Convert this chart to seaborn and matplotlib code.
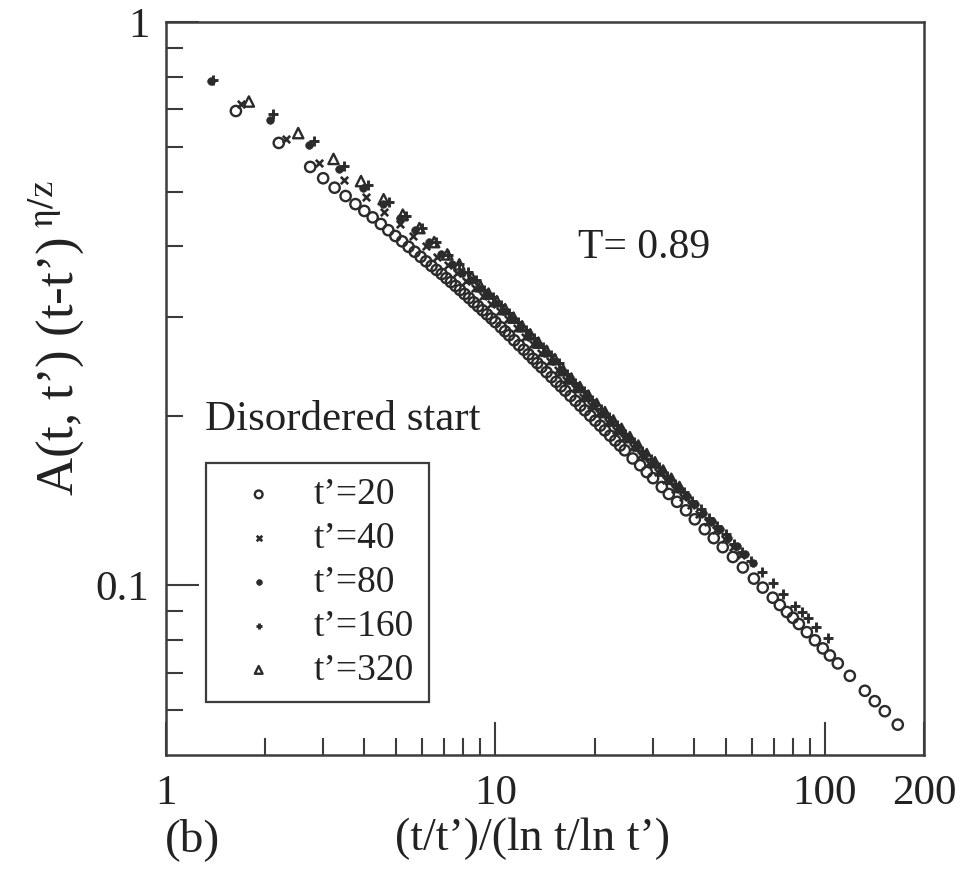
import matplotlib
matplotlib.use("Agg")
import matplotlib.pyplot as plt
import seaborn as sns
import pandas as pd
from matplotlib.ticker import FixedLocator, NullFormatter, FixedFormatter

sns.set_theme(style="white")
plt.rcParams['font.family'] = ['Liberation Serif', 'DejaVu Serif']
plt.rcParams['mathtext.fontset'] = 'stix'

labels = ["t\u2019=20", "t\u2019=40", "t\u2019=80", "t\u2019=160", "t\u2019=320"]

x_t20 = [1.63, 2.20, 2.74, 3.00, 3.25, 3.51, 3.76, 4.00, 4.24, 4.49, 4.73, 4.97, 5.21, 5.45,
         5.69, 5.93, 6.16, 6.40, 6.63, 6.87, 7.10, 7.33, 7.57, 7.81, 8.06, 8.32, 8.59, 8.86,
         9.14, 9.43, 9.73, 10.0, 10.4, 10.7, 11.0, 11.4, 11.8, 12.2, 12.6, 13.0, 13.4, 13.8,
         14.3, 14.8, 15.3, 15.8, 16.3, 16.9, 17.5, 18.1, 18.7, 19.4, 20.1, 20.8, 21.5, 22.3,
         23.1, 23.9, 24.7, 26.1, 27.5, 28.8, 30.1, 32.0, 33.6, 35.6, 37.9, 40.3, 43.2, 46.0,
         49.0, 52.6, 56.4, 60.9, 64.8, 69.5, 73.0, 76.7, 80.0, 83.4, 88.2, 93.3, 98.6, 103.6,
         109.5, 119.1, 132.3, 141.8, 152.1, 166.5]
y_t20 = [0.695, 0.610, 0.553, 0.528, 0.508, 0.491, 0.475, 0.462, 0.450, 0.438, 0.427, 0.417,
         0.408, 0.399, 0.391, 0.383, 0.376, 0.369, 0.363, 0.357, 0.351, 0.3455, 0.340, 0.3345,
         0.329, 0.3236, 0.318, 0.3129, 0.3078, 0.3027, 0.2977, 0.2933, 0.2871, 0.2825, 0.278,
         0.2723, 0.2669, 0.262, 0.2571, 0.2525, 0.2481, 0.2439, 0.239, 0.2343, 0.2298, 0.2256,
         0.2216, 0.2169, 0.2126, 0.2084, 0.2045, 0.2001, 0.196, 0.1921, 0.1884, 0.1844, 0.1807,
         0.1771, 0.1737, 0.168, 0.1634, 0.1589, 0.155, 0.1495, 0.1453, 0.1407, 0.1359, 0.1310,
         0.1258, 0.1213, 0.1169, 0.1123, 0.1076, 0.1028, 0.0991, 0.0951, 0.0923, 0.0897, 0.0876,
         0.0854, 0.0826, 0.0799, 0.0773, 0.0751, 0.0727, 0.0691, 0.065, 0.0623, 0.0598, 0.0566]

x_t40 = [1.684, 2.312, 2.908, 3.48, 4.038, 4.583, 5.116, 5.641, 6.158, 6.667, 7.170, 7.668,
         8.161, 8.65, 9.17, 9.72, 10.3, 10.9, 11.6, 12.3, 13.0, 13.8, 14.6, 15.5, 16.4, 17.4,
         18.4, 19.5, 20.7, 21.9, 23.2, 24.6, 26.1, 27.7, 29.3, 31.1, 33.0, 35.0, 37.0, 39.3,
         41.6, 44.1, 46.8, 49.6, 52.6, 55.7]
y_t40 = [0.715, 0.621, 0.561, 0.524, 0.4887, 0.4603, 0.4371, 0.4174, 0.4005, 0.3833, 0.3704,
         0.3587, 0.3471, 0.3366, 0.3263, 0.3164, 0.3068, 0.2968, 0.2861, 0.2764, 0.2677, 0.2584,
         0.2500, 0.2414, 0.2314, 0.2236, 0.2163, 0.2091, 0.2019, 0.1953, 0.1888, 0.1825, 0.1763,
         0.1702, 0.1647, 0.1590, 0.1536, 0.1484, 0.1436, 0.1387, 0.1341, 0.1296, 0.1252, 0.1210,
         0.1169, 0.1130]

x_t80 = [1.373, 2.068, 2.72, 3.35, 3.96, 4.555, 5.138, 5.711, 6.276, 6.834, 7.385, 7.930, 8.41,
         8.91, 9.44, 10.0, 10.6, 11.2, 11.9, 12.6, 13.4, 14.2, 15.0, 15.9, 16.9, 17.9, 19.0,
         20.1, 21.3, 22.6, 24.0, 25.4, 26.9, 28.5, 30.2, 32.0, 33.9, 36.0, 38.1, 40.4, 42.8,
         45.4, 48.1, 51.0, 54.0, 57.3, 60.7]
y_t80 = [0.785, 0.6706, 0.6043, 0.5483, 0.5070, 0.4746, 0.4484, 0.4267, 0.4064, 0.3877, 0.3721,
         0.3590, 0.3480, 0.3375, 0.3273, 0.3175, 0.3073, 0.2976, 0.2872, 0.2777, 0.2678, 0.2589,
         0.2506, 0.2406, 0.2321, 0.2245, 0.2167, 0.2097, 0.2027, 0.1958, 0.1890, 0.1829, 0.1768,
         0.1709, 0.1652, 0.1597, 0.1543, 0.1490, 0.1441, 0.1393, 0.1347, 0.1301, 0.1258, 0.1215,
         0.1175, 0.1135, 0.1097]

x_t160 = [1.389, 2.118, 2.807, 3.471, 4.117, 4.748, 5.369, 5.979, 6.581, 7.176, 7.764, 8.23,
          8.72, 9.25, 9.80, 10.4, 11.0, 11.7, 12.4, 13.1, 13.9, 14.7, 15.6, 16.5, 17.5, 18.6,
          19.7, 20.9, 22.1, 23.4, 24.8, 26.3, 27.9, 29.6, 31.3, 33.2, 35.2, 37.3, 39.6, 42.0,
          44.5, 47.1, 50.0, 53.0, 56.1, 59.5, 64.4, 69.5, 74.7, 81.2, 85.0, 88.8, 94.2, 102.0]
y_t160 = [0.790, 0.6871, 0.6139, 0.5558, 0.5129, 0.4796, 0.4526, 0.4303, 0.4067, 0.3860, 0.3713,
          0.3601, 0.3477, 0.3348, 0.3246, 0.3143, 0.3041, 0.2933, 0.2835, 0.2745, 0.2652, 0.2566,
          0.2478, 0.2370, 0.2291, 0.2210, 0.2136, 0.2055, 0.1989, 0.1923, 0.1858, 0.1795, 0.1734,
          0.1675, 0.1621, 0.1566, 0.1514, 0.1463, 0.1413, 0.1365, 0.1319, 0.1276, 0.1232, 0.1183,
          0.1144, 0.1105, 0.1055, 0.1009, 0.0967, 0.0921, 0.0897, 0.0874, 0.0844, 0.0806]

x_t320 = [1.785, 2.52, 3.225, 3.909, 4.578, 5.234, 5.880, 6.517, 7.147, 7.770, 8.48, 9.00, 9.53,
          10.1, 10.7, 11.35, 12.05, 12.75, 13.5, 14.3, 15.15, 16.05, 17.0, 18.05, 19.15, 20.3,
          21.5, 22.8, 24.15, 25.6, 27.15, 28.8, 30.5, 32.3, 34.2, 36.2]
y_t320 = [0.7225, 0.6350, 0.5714, 0.5219, 0.4846, 0.4550, 0.4307, 0.4067, 0.3868, 0.3713, 0.3521,
          0.3396, 0.3295, 0.3195, 0.3092, 0.2987, 0.2883, 0.2790, 0.2697, 0.2608, 0.2521, 0.2409,
          0.2329, 0.2249, 0.2172, 0.2099, 0.2030, 0.1962, 0.1896, 0.1833, 0.1771, 0.1710, 0.1654,
          0.1599, 0.1546, 0.1495]

x_ticks = [1, 10, 100, 200]
x_ticklabels = ["1", "10", "100", "200"]
y_ticks = [0.1, 1]
y_ticklabels = ["0.1", "1"]

ink = "#2b2b2b"
frame = "#3c3c3c"
txt = "#222222"

data = pd.concat([
    pd.DataFrame({"x": xs, "y": ys, "series": lab})
    for lab, xs, ys in zip(labels, [x_t20, x_t40, x_t80, x_t160, x_t320],
                           [y_t20, y_t40, y_t80, y_t160, y_t320])
], ignore_index=True)

styles = {
    labels[0]: dict(marker="o", s=55, facecolors="none", edgecolor=ink, linewidth=1.7),
    labels[1]: dict(marker="x", s=28, color=ink, linewidth=1.9),
    labels[2]: dict(marker="o", s=30, color=ink, edgecolor=ink, linewidth=0.5),
    labels[3]: dict(marker="+", s=45, color=ink, linewidth=2.1),
    labels[4]: dict(marker="^", s=55, facecolors="none", edgecolor=ink, linewidth=1.7),
}

fig = plt.figure(figsize=(9.65, 8.69), dpi=100)
ax = fig.add_axes([0.172, 0.1312, 0.7855, 0.8435])

for lab in labels:
    sub = data[data["series"] == lab]
    sns.scatterplot(data=sub, x="x", y="y", ax=ax, label=lab, legend=False, zorder=3,
                    **styles[lab])

ax.set_xscale("log")
ax.set_yscale("log")
ax.set_xlim(1, 200)
ax.set_ylim(0.05, 1)

ax.xaxis.set_major_locator(FixedLocator(x_ticks))
ax.xaxis.set_major_formatter(FixedFormatter(x_ticklabels))
ax.xaxis.set_minor_locator(FixedLocator([2, 3, 4, 5, 6, 7, 8, 9, 20, 30, 40, 50, 60, 70, 80, 90]))
ax.xaxis.set_minor_formatter(NullFormatter())
ax.yaxis.set_major_locator(FixedLocator(y_ticks))
ax.yaxis.set_major_formatter(FixedFormatter(y_ticklabels))
ax.yaxis.set_minor_locator(FixedLocator([0.06, 0.07, 0.08, 0.09, 0.2, 0.3, 0.4, 0.5, 0.6, 0.7, 0.8, 0.9]))
ax.yaxis.set_minor_formatter(NullFormatter())

ax.tick_params(which="both", direction="in", bottom=True, left=True, top=False, right=False,
               color=frame, width=1.5, labelcolor=txt, labelsize=31)
ax.tick_params(which="major", length=24, pad=12)
ax.tick_params(which="minor", length=12)
ax.tick_params(axis="x", which="major", pad=14)

for sp in ax.spines.values():
    sp.set_color(frame)
    sp.set_linewidth(1.8)
    sp.set_visible(True)

ax.set_xlabel("(t/t\u2019)/(ln t/ln t\u2019)", fontsize=33, color=txt)
ax.xaxis.set_label_coords(0.484, -0.085)
ax.set_ylabel("A(t, t\u2019) (t-t\u2019)$^{\\ \\mathrm{\\eta/z}}$", fontsize=38, color=txt)
ax.yaxis.set_label_coords(-0.106, 0.568)

ax.text(0.5435, 0.692, "T= 0.89", transform=ax.transAxes, fontsize=30,
        va="center", ha="left", color=txt)
ax.text(0.0515, 0.458, "Disordered start", transform=ax.transAxes, fontsize=31,
        va="center", ha="left", color=txt)
fig.text(0.171, 0.034, "(b)", fontsize=34, va="center", ha="left", color=txt)

leg = ax.legend(loc="lower left", bbox_to_anchor=(0.0528, 0.0723), borderaxespad=0,
                fontsize=27, frameon=True, fancybox=False, framealpha=1,
                handletextpad=0.45, handlelength=2.05, labelspacing=0.25,
                borderpad=0.38, markerscale=0.75)
leg.get_frame().set_edgecolor(frame)
leg.get_frame().set_linewidth(1.6)
for t in leg.get_texts():
    t.set_color(txt)

fig.savefig("out.png", dpi=100)
